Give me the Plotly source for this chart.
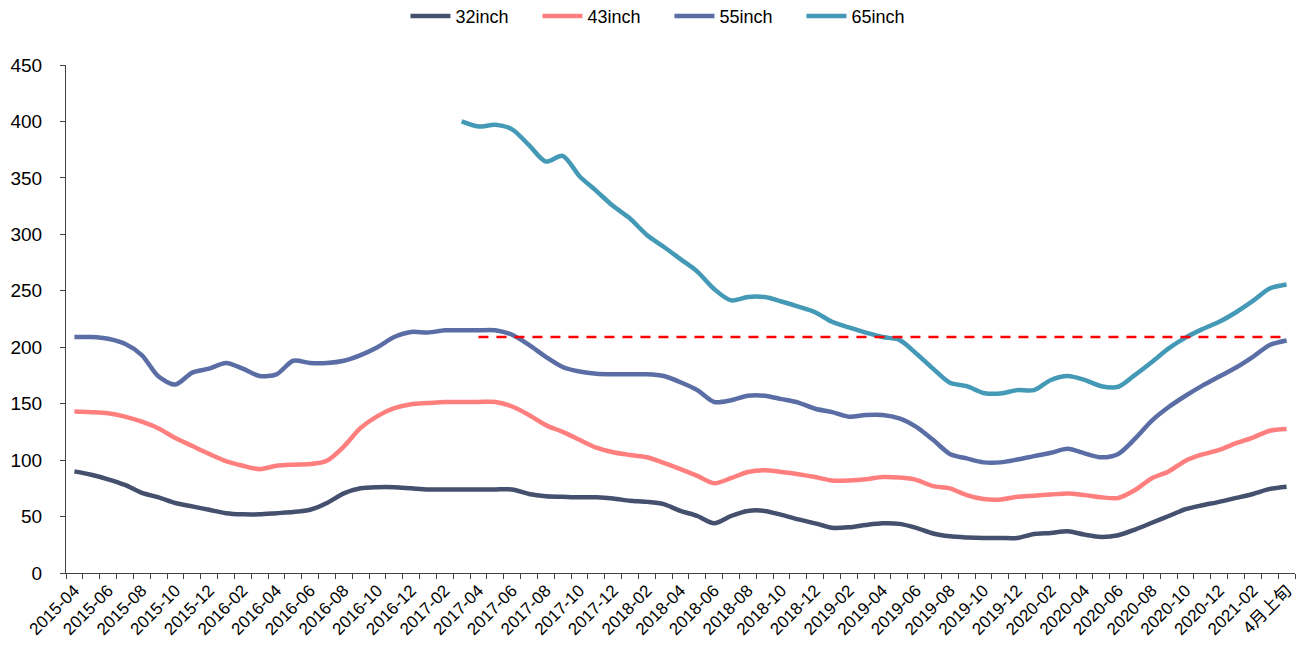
import plotly.graph_objects as go
import pandas as pd

# Monthly categories from 2015-04 to 2021-03, plus the early-April reading
months = [p.strftime("%Y-%m") for p in pd.period_range("2015-04", "2021-03", freq="M")]
categories = months + ["4月上旬"]

size32 = [90, 87, 83, 78, 71, 67, 62, 59, 56, 53, 52, 52, 53, 54, 56, 62, 70.5, 75, 76, 76,
          75, 74, 74, 74, 74, 74, 74, 70, 68, 67.5, 67, 67, 66, 64, 63, 61, 55, 50.5, 44, 50.5,
          55, 55, 51.5, 47.5, 44, 40, 40.5, 42.5, 44, 43.5, 40, 35, 32.5, 31.5, 31, 31, 31, 34.5,
          35.5, 37, 34, 32, 33.5, 38.5, 44.5, 50.5, 56.5, 60, 63, 66.5, 70, 74.5, 76.5]

size43 = [143, 142.5, 141.5, 138.5, 134, 128, 119.5, 112.5, 105.5, 99, 95, 92, 95, 96, 96.5,
          99.5, 112, 128.5, 139, 146, 149.5, 150.5, 151.5, 151.5, 151.5, 151.5, 147.5, 140, 131,
          125, 118, 111, 107, 104.5, 102.5, 97.5, 92, 86, 79.5, 84, 89.5, 91, 89.5, 87.5, 85, 82,
          82, 83, 85, 84.5, 82.5, 77, 75, 69, 65.5, 65, 67.5, 68.5, 69.5, 70.5, 69, 67, 66.5,
          73.5, 84, 90, 99.5, 105, 109, 115, 120, 126, 127.5]

size55 = [209, 209, 207.5, 203, 193, 174, 167, 177.5, 181, 186, 181, 174.5, 176, 188, 186, 186,
          188, 193, 200, 209, 213.5, 213, 215, 215, 215, 215, 211, 202, 191.5, 182.5, 178.5,
          176.5, 176, 176, 176, 174.5, 169, 162, 151.5, 153, 157, 157, 154, 151, 145.5, 142.5,
          138.5, 140, 140, 137, 129.5, 118, 105.5, 101.5, 98, 98, 100.5, 103.5, 106.5, 110, 106,
          102.5, 105.5, 119, 135, 147, 157, 166, 174, 182, 191.5, 202, 206]

size65 = [None] * 23 + [400, 395.5, 397, 393, 379, 364.5, 369.5, 351.5, 338.5, 325, 314, 299.5,
                        289, 278, 267, 251.5, 241.5, 244.5, 244.5, 240.5, 236, 231, 222.5, 217.5,
                        213, 209, 206.5, 194.5, 181, 168.5, 165.5, 159.5, 159, 162, 162, 171,
                        174.5, 171, 165.5, 165, 175.5, 187, 199, 208.5, 216, 222.5, 231, 241,
                        252, 255.5]

# Reference level drawn from 2017-04 onward
ref_level = 209
ref_start = "2017-04"

series = [
    ("32inch", size32, "#44506E"),
    ("43inch", size43, "#FF7F7F"),
    ("55inch", size55, "#5A6EA5"),
    ("65inch", size65, "#4399B6"),
]

x_pos = list(range(len(categories)))
font_family = "Liberation Sans, Arial, Noto Sans CJK SC, sans-serif"

fig = go.Figure()
for name, vals, color in series:
    fig.add_trace(go.Scatter(
        x=x_pos, y=vals, name=name, mode="lines",
        line=dict(color=color, width=4.5, shape="spline", smoothing=0.8),
        connectgaps=False,
    ))

ref_idx = categories.index(ref_start)
fig.add_trace(go.Scatter(
    x=x_pos[ref_idx:], y=[ref_level] * (len(categories) - ref_idx),
    mode="lines", showlegend=False, hoverinfo="skip",
    line=dict(color="#FF0000", width=2.5, dash="10px,8px"),
))

fig.update_layout(
    width=1301, height=653,
    margin=dict(l=66, r=6, t=65, b=80, autoexpand=False),
    plot_bgcolor="white", paper_bgcolor="white",
    font=dict(family=font_family, size=18, color="#000000"),
    legend=dict(
        orientation="h", x=0.491, xanchor="center", y=1.096, yanchor="middle",
        font=dict(size=18), itemwidth=40, entrywidth=77, tracegroupgap=0,
    ),
)

fig.update_xaxes(
    range=[-0.5, len(categories) - 0.5],
    tickmode="array", tickvals=x_pos[::2], ticktext=categories[::2],
    tickangle=-45, tickfont=dict(size=17),
    ticks="", showgrid=False, zeroline=False,
    showline=True, linecolor="#404040", linewidth=1,
    minor=dict(tickmode="array", tickvals=[i - 0.5 for i in range(len(categories) + 1)],
               ticks="outside", ticklen=5, tickcolor="#404040", tickwidth=1, showgrid=False),
)

fig.update_yaxes(
    range=[0, 450], dtick=50, tick0=0,
    ticks="outside", ticklen=5, tickcolor="#404040",
    showgrid=False, zeroline=False,
    showline=True, linecolor="#404040", linewidth=1,
    tickfont=dict(size=19), ticklabelstandoff=14,
)

fig.write_html("out.html")
